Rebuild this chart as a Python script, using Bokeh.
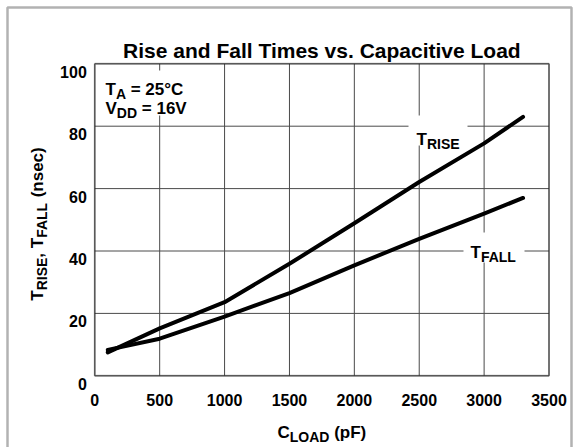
import math
from bokeh.plotting import figure
from bokeh.models import Range1d, Label, BoxAnnotation
from bokeh.core.properties import value
from bokeh.embed import file_html
from bokeh.resources import INLINE

# ---- data ----
c_load = [100, 500, 1000, 1500, 2000, 2500, 3000, 3300]
t_rise = [7.5, 15.2, 23.6, 35.9, 48.9, 62.1, 74.5, 83.0]
t_fall = [8.3, 11.9, 19.0, 26.5, 35.4, 43.9, 52.0, 57.0]
x_ticks = [0, 500, 1000, 1500, 2000, 2500, 3000, 3500]
y_ticks = [0, 20, 40, 60, 80, 100]
X_MAX, Y_MAX = 3500, 100

FONT = "Liberation Sans"
W, H = 576, 447
# plot-area placement on the canvas (pixels)
L, R, T, B = 94.3, 548.5, 63.3, 375.3
sx = X_MAX / (R - L)
sy = Y_MAX / (B - T)

p = figure(width=W, height=H, output_backend="svg", toolbar_location=None,
           x_axis_type=None, y_axis_type=None,
           x_range=Range1d(-L * sx, X_MAX + (W - R) * sx),
           y_range=Range1d(-(H - B) * sy, Y_MAX + T * sy),
           min_border=0)
p.min_border_left = p.min_border_right = p.min_border_top = p.min_border_bottom = 0
p.border_fill_color = "white"
p.background_fill_color = "white"
p.outline_line_color = None

def dx(px):
    return (px - L) * sx
def dy(py):
    return (B - py) * sy

# outer border (bottom edge lies below the visible page)
p.add_layout(BoxAnnotation(left=dx(7), right=dx(571), top=dy(7), bottom=dy(470),
                           fill_alpha=0, line_color="black", line_width=2.5))

# grid lines
p.segment(x0=x_ticks, y0=[0] * len(x_ticks), x1=x_ticks, y1=[Y_MAX] * len(x_ticks),
          line_color="#4a4a4a", line_width=1)
p.segment(x0=[0] * len(y_ticks), y0=y_ticks, x1=[X_MAX] * len(y_ticks), y1=y_ticks,
          line_color="#4a4a4a", line_width=1)

# curves
p.line(c_load, t_rise, line_color="black", line_width=4, line_cap="round", line_join="round")
p.line(c_load, t_fall, line_color="black", line_width=4, line_cap="round", line_join="round")

# plot frame
p.add_layout(BoxAnnotation(left=0, right=X_MAX, bottom=0, top=Y_MAX,
                           fill_alpha=0, line_color="black", line_width=2))

# tick labels
p.text(x=x_ticks, y=[0] * len(x_ticks), text=[str(t) for t in x_ticks],
       text_font=value(FONT), text_font_style="bold", text_font_size="16px",
       text_color="black", text_align="center", text_baseline="alphabetic", y_offset=24)
p.text(x=[0] * len(y_ticks), y=y_ticks, text=[str(t) for t in y_ticks],
       text_font=value(FONT), text_font_style="bold", text_font_size="16px",
       text_color="black", text_align="right", text_baseline="alphabetic",
       x_offset=-8, y_offset=8)

WID = {'T': 611, 'R': 722, 'I': 278, 'S': 667, 'E': 667, ',': 278, ' ': 278, 'F': 611,
       'A': 722, 'L': 611, '(': 333, 'n': 611, 's': 556, 'e': 556, 'c': 556, ')': 333,
       'C': 722, 'O': 778, 'D': 722, 'p': 611, 'V': 667, '=': 584, '2': 556, '5': 556,
       '1': 556, '6': 556, '\u00b0': 400}
def tw(s, size):
    return sum(WID.get(ch, 600) for ch in s) * size / 1000.0

def seq(pieces, x0, base, vertical=False):
    pos = 0.0
    for text, size, shift in pieces:
        lead = len(text) - len(text.lstrip(" "))
        pos += tw(" " * lead, size)
        text = text.lstrip(" ")
        if vertical:
            px, py, ang = x0 + shift, base - pos, math.pi / 2
        else:
            px, py, ang = x0 + pos, base + shift, 0
        p.add_layout(Label(x=dx(px), y=dy(py), text=text, angle=ang, text_font=FONT,
                           text_font_style="bold", text_font_size=f"{size}px",
                           text_color="black", text_align="left",
                           text_baseline="alphabetic"))
        pos += tw(text, size)

def blank(x0, x1, y0, y1):
    p.add_layout(BoxAnnotation(left=dx(x0), right=dx(x1), top=dy(y0), bottom=dy(y1),
                               fill_color="white", fill_alpha=1, line_alpha=0))

# title
p.add_layout(Label(x=dx((L + R) / 2), y=dy(50), text="Rise and Fall Times vs. Capacitive Load",
                   text_font=FONT, text_font_style="bold", text_font_size="21px",
                   text_color="black", text_align="center", text_baseline="alphabetic"))

# x axis label
xl = [("C", 17, 0), ("LOAD", 14, 4), (" (pF)", 17, 0)]
xw = sum(tw(t, s) for t, s, _ in xl)
seq(xl, (L + R) / 2 - xw / 2, 432)

# y axis label (reads bottom to top)
yl = [("T", 17, 0), ("RISE", 14, 4), (", T", 17, 0), ("FALL", 14, 4), (" (nsec)", 17, 0)]
yw = sum(tw(t, s) for t, s, _ in yl)
seq(yl, 37, 223.5 + yw / 2, vertical=True)

# conditions box
blank(100, 186, 70, 115)
seq([("T", 17, 0), ("A", 14, 4), (" = 25\u00b0C", 17, 0)], 105, 89)
seq([("V", 17, 0), ("DD", 14, 4), (" = 16V", 17, 0)], 105, 108)

# curve labels
blank(408, 467, 115, 145)
seq([("T", 17, 0), ("RISE", 14, 4)], 416, 139)
blank(463, 524, 232, 262)
seq([("T", 17, 0), ("FALL", 14, 4)], 470, 252)

open("out.html", "w").write(file_html(p, INLINE))
